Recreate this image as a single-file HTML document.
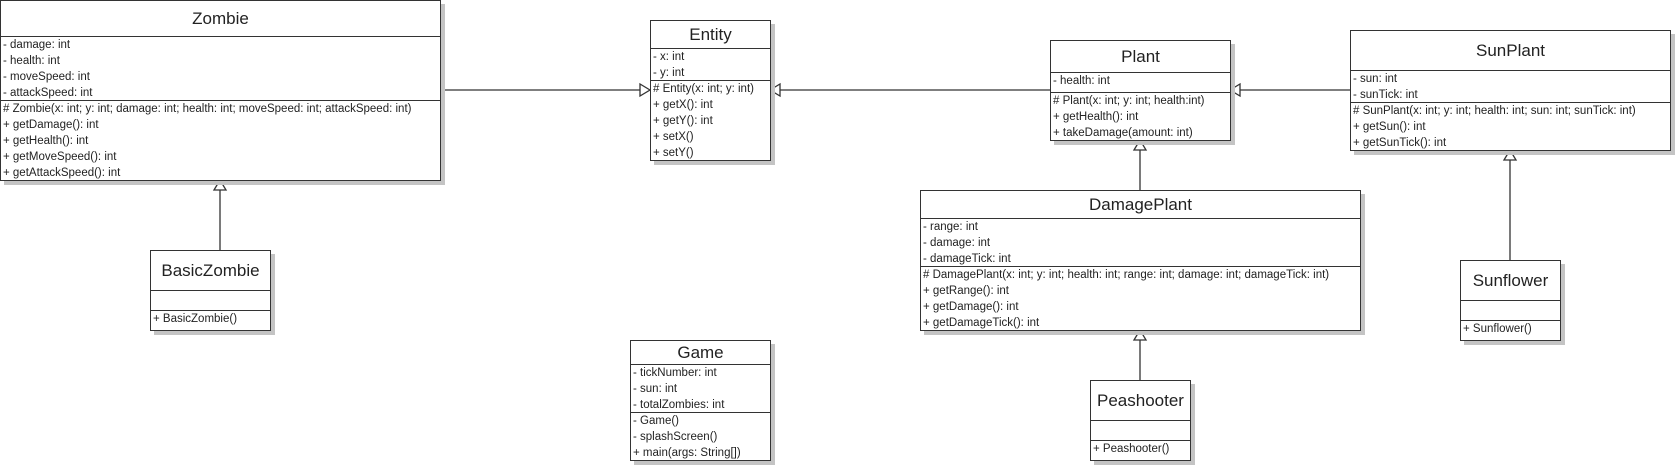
<!DOCTYPE html>
<html><head><meta charset="utf-8"><style>
html,body{margin:0;padding:0;background:#fff;}
body{width:1675px;height:465px;position:relative;overflow:hidden;font-family:"Liberation Sans",sans-serif;color:#222;}
.b{position:absolute;border:1px solid #333;background:#fff;box-shadow:4px 4px 0 #c4c4c4;box-sizing:border-box;}
.t{display:flex;align-items:center;justify-content:center;font-size:17px;border-bottom:1px solid #333;box-sizing:border-box;}
.s{border-bottom:1px solid #333;box-sizing:border-box;font-size:11.5px;padding-left:2px;}
.s:last-child{border-bottom:none;}
.s div{height:16px;line-height:16px;white-space:nowrap;}
svg{position:absolute;left:0;top:0;}
</style></head><body>
<svg width="1675" height="465">
<g stroke="#333" stroke-width="1.3" fill="#fff">
<line x1="440" y1="90" x2="640" y2="90"/>
<polygon points="650,90 640,84 640,96"/>
<line x1="780" y1="90" x2="1050" y2="90"/>
<polygon points="770,90 780,84 780,96"/>
<line x1="1240" y1="90" x2="1350" y2="90"/>
<polygon points="1230,90 1240,84 1240,96"/>
<line x1="220" y1="190" x2="220" y2="250"/>
<polygon points="220,180 214,190 226,190"/>
<line x1="1140" y1="150" x2="1140" y2="190"/>
<polygon points="1140,140 1134,150 1146,150"/>
<line x1="1140" y1="340" x2="1140" y2="380"/>
<polygon points="1140,330 1134,340 1146,340"/>
<line x1="1510" y1="160" x2="1510" y2="260"/>
<polygon points="1510,150 1504,160 1516,160"/>
</g></svg>

<div class="b" style="left:0;top:0;width:441px;height:181px">
<div class="t" style="height:36px">Zombie</div>
<div class="s" style="height:64px"><div>- damage: int</div><div>- health: int</div><div>- moveSpeed: int</div><div>- attackSpeed: int</div></div>
<div class="s"><div># Zombie(x: int; y: int; damage: int; health: int; moveSpeed: int; attackSpeed: int)</div><div>+ getDamage(): int</div><div>+ getHealth(): int</div><div>+ getMoveSpeed(): int</div><div>+ getAttackSpeed(): int</div></div>
</div>

<div class="b" style="left:150px;top:250px;width:121px;height:81px">
<div class="t" style="height:40px">BasicZombie</div>
<div class="s" style="height:20px"></div>
<div class="s"><div>+ BasicZombie()</div></div>
</div>

<div class="b" style="left:650px;top:20px;width:121px;height:141px">
<div class="t" style="height:28px">Entity</div>
<div class="s" style="height:32px"><div>- x: int</div><div>- y: int</div></div>
<div class="s"><div># Entity(x: int; y: int)</div><div>+ getX(): int</div><div>+ getY(): int</div><div>+ setX()</div><div>+ setY()</div></div>
</div>

<div class="b" style="left:1050px;top:40px;width:181px;height:101px">
<div class="t" style="height:32px">Plant</div>
<div class="s" style="height:20px"><div>- health: int</div></div>
<div class="s"><div># Plant(x: int; y: int; health:int)</div><div>+ getHealth(): int</div><div>+ takeDamage(amount: int)</div></div>
</div>

<div class="b" style="left:1350px;top:30px;width:321px;height:121px">
<div class="t" style="height:40px">SunPlant</div>
<div class="s" style="height:32px"><div>- sun: int</div><div>- sunTick: int</div></div>
<div class="s"><div># SunPlant(x: int; y: int; health: int; sun: int; sunTick: int)</div><div>+ getSun(): int</div><div>+ getSunTick(): int</div></div>
</div>

<div class="b" style="left:920px;top:190px;width:441px;height:141px">
<div class="t" style="height:28px">DamagePlant</div>
<div class="s" style="height:48px"><div>- range: int</div><div>- damage: int</div><div>- damageTick: int</div></div>
<div class="s"><div># DamagePlant(x: int; y: int; health: int; range: int; damage: int; damageTick: int)</div><div>+ getRange(): int</div><div>+ getDamage(): int</div><div>+ getDamageTick(): int</div></div>
</div>

<div class="b" style="left:1460px;top:260px;width:101px;height:81px">
<div class="t" style="height:40px">Sunflower</div>
<div class="s" style="height:20px"></div>
<div class="s"><div>+ Sunflower()</div></div>
</div>

<div class="b" style="left:1090px;top:380px;width:101px;height:81px">
<div class="t" style="height:40px">Peashooter</div>
<div class="s" style="height:20px"></div>
<div class="s"><div>+ Peashooter()</div></div>
</div>

<div class="b" style="left:630px;top:340px;width:141px;height:121px">
<div class="t" style="height:24px">Game</div>
<div class="s" style="height:48px"><div>- tickNumber: int</div><div>- sun: int</div><div>- totalZombies: int</div></div>
<div class="s"><div>- Game()</div><div>- splashScreen()</div><div>+ main(args: String[])</div></div>
</div>
</body></html>
